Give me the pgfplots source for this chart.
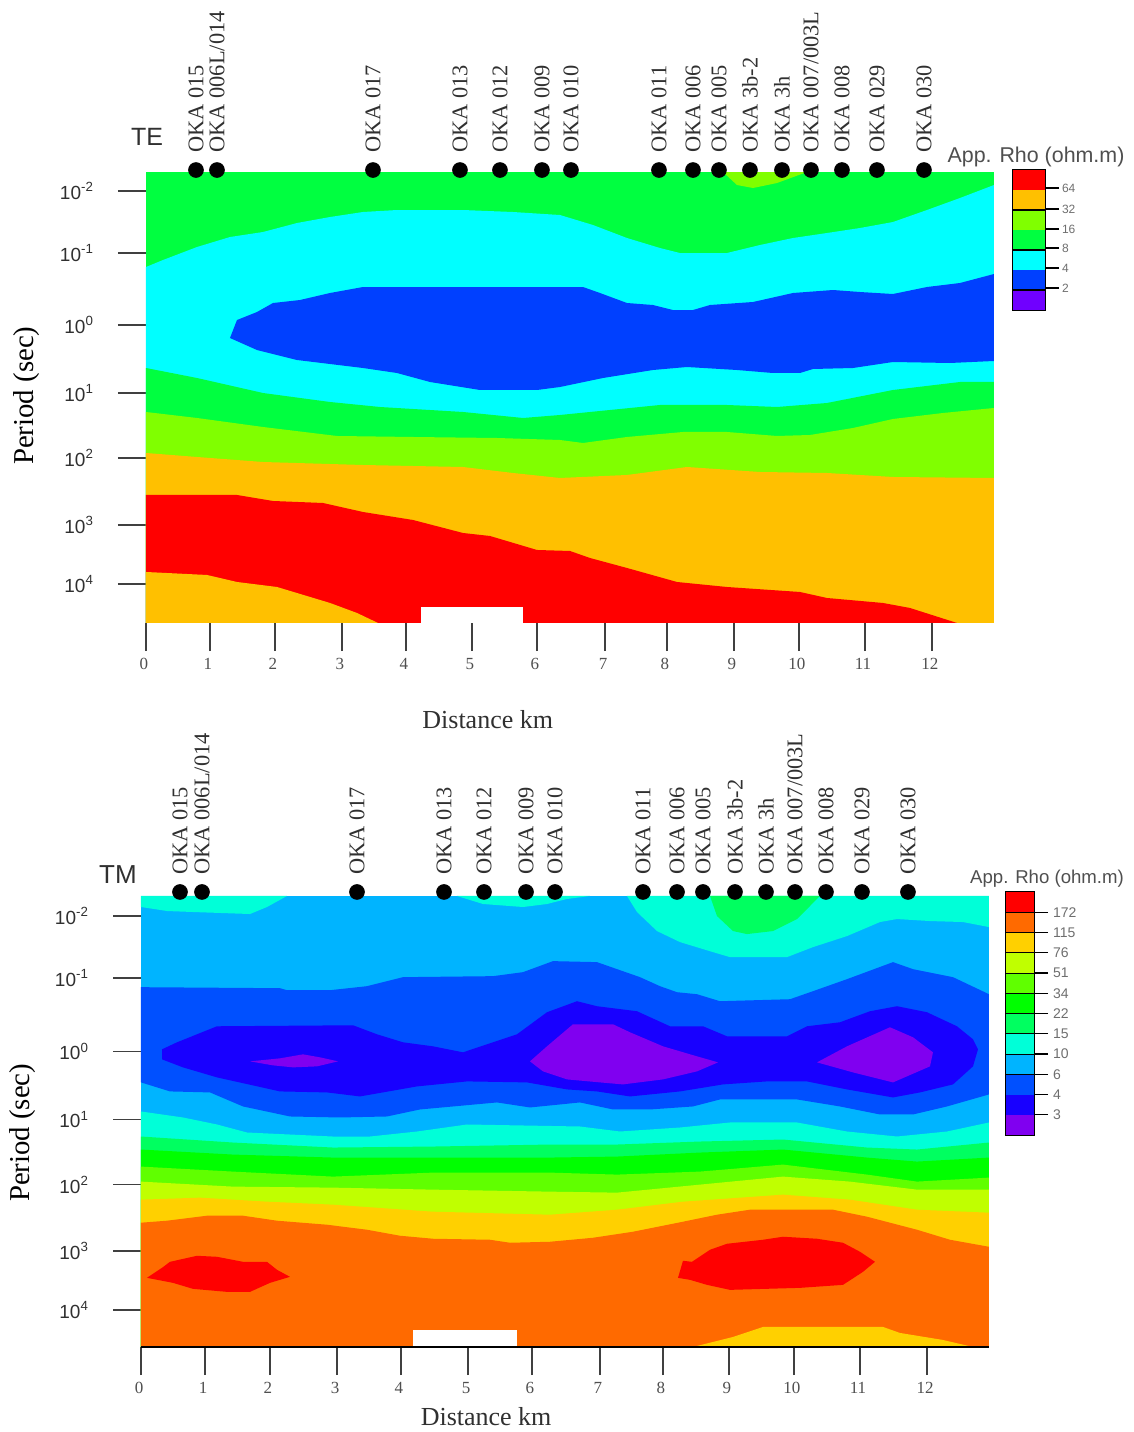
\documentclass[border=0pt]{standalone}
\usepackage{fontspec}
\setmainfont{Liberation Serif}
\newfontfamily\hel{Liberation Sans}
\usepackage{pgfplots}
\pgfplotsset{compat=1.18}
\definecolor{cG}{HTML}{00FF40}
\definecolor{cC}{HTML}{00FFFF}
\definecolor{cB}{HTML}{0040FF}
\definecolor{cL}{HTML}{80FF00}
\definecolor{cA}{HTML}{FFC000}
\definecolor{cR}{HTML}{FF0000}
\definecolor{cP}{HTML}{7000FF}
\definecolor{mR}{HTML}{FF0000}
\definecolor{mO}{HTML}{FF6A00}
\definecolor{mA}{HTML}{FFD000}
\definecolor{mY}{HTML}{C0FF00}
\definecolor{mL}{HTML}{60FF00}
\definecolor{mG}{HTML}{00FF00}
\definecolor{mS}{HTML}{00FF60}
\definecolor{mQ}{HTML}{00FFD8}
\definecolor{mH}{HTML}{00B4FF}
\definecolor{mB}{HTML}{0050FF}
\definecolor{mD}{HTML}{1800FF}
\definecolor{mP}{HTML}{8000F0}
\definecolor{txt}{HTML}{303030}
\pgfplotsset{
  map/.style={scale only axis,clip=false,enlargelimits=false,y dir=reverse,
    width=424pt,
    axis line style={draw=none},
    tick align=outside,
    major tick length=14pt,
    tick style={black!75,line width=.8pt},
    xtick pos=lower,xticklabel pos=lower,ytick pos=left,
    xticklabels={0,1,2,3,4,5,6,7,8,9,10,11,12},
    yticklabels={10\textsuperscript{-2},10\textsuperscript{-1},10\textsuperscript{0},10\textsuperscript{1},10\textsuperscript{2},10\textsuperscript{3},10\textsuperscript{4}},
    xticklabel style={font=\fontsize{8.5}{9}\selectfont,text=txt!85,xshift=-1pt},
    yticklabel style={font=\hel\fontsize{9.5}{10}\selectfont,text=txt,xshift=-8.5pt},
    xlabel={Distance km},ylabel={Period (sec)},
    xlabel style={font=\fontsize{13}{14}\selectfont,text=txt},
    ylabel style={font=\fontsize{14.4}{15}\selectfont,text=black},
  },
  fl/.style={fill=#1,draw=none},
  st/.style={only marks,mark=*,mark size=3.7pt,mark options={fill=black,draw=black},
    nodes near coords,point meta=explicit symbolic,
    every node near coord/.style={yshift=8.5pt,rotate=90,anchor=west,inner sep=0pt,
      font=\fontsize{11.2}{12}\selectfont,text=txt}},
  cbar/.style={scale only axis,enlargelimits=false,y dir=reverse,xmin=0,xmax=1,
    xtick=\empty,ytick pos=right,yticklabel pos=right,tick align=outside,
    major tick length=7pt,tick style={black,line width=.7pt},
    axis line style={black,line width=.7pt},
    clip=false},
}
\begin{document}
\begin{tikzpicture}
\path[use as bounding box] (0,0) rectangle (567pt,716pt);
% ===================== TE =====================
\begin{axis}[map,at={(73pt,404.5pt)},anchor=south west,height=225.5pt,
  x filter/.expression={(x-146)/65.5},y filter/.expression={(y-325)/65.5},
  xmin=0,xmax=12.947,ymin=-2.336,ymax=4.55,
  xtick={0,0.977,1.969,2.992,3.969,4.977,5.969,7.008,7.954,8.977,9.969,10.977,12},
  ytick={-2.046,-1.099,0,1.038,2.031,3.053,3.954},
  xlabel style={at={(axis description cs:0.403,-0.215)},anchor=center},
  ylabel style={at={(axis description cs:-0.141,0.504)},anchor=center},
]
\addplot[fl=cG] coordinates {(146,172)(994,172)(994,623)(146,623)} -- cycle;
\addplot[fl=cL] coordinates {(723,172)(737,185)(753,188)(777,183)(807,172)} -- cycle;
\addplot[fl=cC] coordinates {(146,267)(163,260)(197,247)(230,237)(263,232)(297,223)(330,217)(363,212)(397,210)(463,210)(513,212)(560,215)(593,225)(627,238)(660,248)(680,253)(727,253)(760,245)(793,238)(827,233)(860,228)(893,222)(927,210)(960,198)(994,185)(994,623)(146,623)} -- cycle;
\addplot[fl=cB] coordinates {(230,338)(237,320)(257,312)(273,303)(300,300)(330,293)(363,287)(583,287)(600,293)(627,303)(653,305)(673,310)(693,310)(710,305)(753,302)(793,293)(833,290)(860,292)(893,294)(927,287)(960,283)(994,274)(994,361)(950,363)(893,362)(853,368)(813,369)(800,373)(773,373)(737,370)(687,367)(653,370)(603,378)(560,387)(537,390)(480,390)(430,382)(397,373)(363,368)(297,360)(257,350)} -- cycle;
\addplot[fl=cG] coordinates {(146,368)(197,378)(263,393)(330,402)(380,407)(463,412)(523,418)(560,415)(610,410)(660,405)(727,405)(777,407)(827,403)(893,390)(960,382)(994,382)(994,623)(146,623)} -- cycle;
\addplot[fl=cL] coordinates {(146,412)(197,418)(263,427)(337,436)(413,437)(497,438)(560,440)(583,443)(627,437)(683,432)(727,432)(777,436)(810,435)(853,428)(893,419)(943,413)(994,408)(994,623)(146,623)} -- cycle;
\addplot[fl=cA] coordinates {(146,453)(197,457)(263,462)(363,465)(463,467)(513,473)(560,478)(627,475)(687,467)(760,472)(827,473)(893,477)(994,478)(994,623)(146,623)} -- cycle;
\addplot[fl=cR] coordinates {(146,495)(237,495)(273,501)(323,503)(363,512)(413,520)(463,533)(490,536)(537,550)(570,551)(590,558)(627,568)(677,582)(727,587)(800,592)(827,598)(883,603)(910,608)(957,623)(146,623)} -- cycle;
\addplot[fl=cA] coordinates {(146,572)(207,575)(237,582)(277,587)(330,603)(357,613)(378,623)(146,623)} -- cycle;
\addplot[fl=white] coordinates {(421,607)(523,607)(523,623)(421,623)} -- cycle;
\addplot[st] coordinates {(196,170)[OKA 015] (217,170)[OKA 006L/014] (373,170)[OKA 017] (460,170)[OKA 013] (500,170)[OKA 012] (542,170)[OKA 009] (571,170)[OKA 010] (659,170)[OKA 011] (693,170)[OKA 006] (719,170)[OKA 005] (750,170)[OKA 3b-2] (782,170)[OKA 3h] (811,170)[OKA 007/003L] (842,170)[OKA 008] (877,170)[OKA 029] (924,170)[OKA 030]};
\end{axis}
% ---- TE colour bar
\begin{axis}[cbar,at={(506.5pt,561pt)},anchor=south west,width=16pt,height=70pt,ymin=0,ymax=7,
  ytick={0.9,1.95,2.95,3.9,4.9,5.9},yticklabels={64,32,16,8,4,2},
  yticklabel style={font=\hel\fontsize{6}{7}\selectfont,text=txt!70,xshift=-2pt}]
\addplot[fl=cR] coordinates {(0,0)(1,0)(1,1)(0,1)} -- cycle;
\addplot[fl=cA] coordinates {(0,1)(1,1)(1,2)(0,2)} -- cycle;
\addplot[fl=cL] coordinates {(0,2)(1,2)(1,3)(0,3)} -- cycle;
\addplot[fl=cG] coordinates {(0,3)(1,3)(1,4)(0,4)} -- cycle;
\addplot[fl=cC] coordinates {(0,4)(1,4)(1,5)(0,5)} -- cycle;
\addplot[fl=cB] coordinates {(0,5)(1,5)(1,6)(0,6)} -- cycle;
\addplot[fl=cP] coordinates {(0,6)(1,6)(1,7)(0,7)} -- cycle;
\addplot[black,line width=.6pt] coordinates {(0,2)(1,2)};
\addplot[black,line width=.6pt] coordinates {(0,4)(1,4)};
\addplot[black,line width=.6pt] coordinates {(0,6)(1,6)};
\end{axis}
% ===================== TM =====================
\begin{axis}[map,at={(70.5pt,42.5pt)},anchor=south west,height=225pt,
  x filter/.expression={(x-141)/65.6},y filter/.expression={(y-1052)/65.5},
  xmin=0,xmax=12.927,ymin=-2.351,ymax=4.504,
  xtick={0,0.976,1.966,2.988,3.963,4.985,5.96,6.997,7.957,8.963,9.954,10.96,11.982},
  ytick={-2.061,-1.115,0,1.038,2.031,3.038,3.939},
  xlabel style={at={(axis description cs:0.407,-0.155)},anchor=center},
  ylabel style={at={(axis description cs:-0.14,0.476)},anchor=center},
]
\addplot[fl=mH] coordinates {(141,897)(989,897)(989,1347)(141,1347)} -- cycle;
\addplot[fl=mQ] coordinates {(141,897)(287,897)(267,908)(250,915)(193,913)(167,912)(141,908)} -- cycle;
\addplot[fl=mQ] coordinates {(457,897)(483,905)(523,908)(547,905)(567,900)(590,897)} -- cycle;
\addplot[fl=mQ] coordinates {(627,897)(637,913)(657,932)(680,943)(713,953)(730,958)(787,958)(813,948)(847,937)(880,923)(897,920)(930,922)(963,923)(989,928)(989,897)} -- cycle;
\addplot[fl=mS] coordinates {(710,897)(717,917)(733,932)(747,935)(773,932)(797,920)(820,897)} -- cycle;
\addplot[fl=mB] coordinates {(141,988)(280,989)(287,991)(330,991)(367,987)(403,978)(493,977)(523,973)(553,962)(597,963)(640,978)(660,987)(677,993)(697,995)(720,1002)(790,1000)(813,992)(847,980)(893,963)(913,970)(953,978)(989,995)(989,1095)(947,1107)(913,1115)(880,1115)(840,1107)(797,1100)(720,1100)(693,1107)(650,1110)(613,1110)(580,1103)(530,1108)(497,1103)(420,1110)(387,1117)(340,1118)(290,1117)(243,1107)(210,1093)(170,1092)(141,1083)} -- cycle;
\addplot[fl=mD] coordinates {(162,1050)(177,1043)(217,1027)(353,1026)(377,1035)(403,1043)(433,1047)(463,1053)(517,1035)(547,1013)(577,1002)(597,1007)(637,1012)(670,1027)(703,1027)(727,1037)(787,1037)(807,1027)(840,1023)(870,1012)(897,1007)(927,1013)(957,1027)(973,1040)(978,1050)(973,1067)(953,1085)(920,1093)(893,1098)(847,1090)(807,1082)(767,1082)(723,1085)(680,1092)(630,1097)(597,1092)(567,1090)(527,1083)(467,1082)(417,1087)(360,1097)(327,1093)(280,1092)(217,1078)(183,1068)(162,1060)} -- cycle;
\addplot[fl=mP] coordinates {(250,1062)(280,1059)(303,1055)(320,1058)(338,1062)(317,1067)(293,1068)(273,1066)} -- cycle;
\addplot[fl=mP] coordinates {(530,1062)(547,1047)(573,1025)(613,1025)(630,1033)(663,1047)(697,1057)(718,1063)(697,1072)(663,1080)(623,1085)(600,1083)(567,1080)(543,1072)} -- cycle;
\addplot[fl=mP] coordinates {(817,1063)(847,1047)(890,1028)(913,1038)(933,1053)(930,1067)(893,1083)(853,1073)} -- cycle;
\addplot[fl=mQ] coordinates {(141,1112)(183,1118)(217,1125)(247,1133)(333,1137)(370,1137)(417,1132)(467,1125)(580,1127)(620,1132)(680,1128)(730,1123)(797,1123)(847,1132)(897,1137)(947,1132)(989,1123)(989,1347)(141,1347)} -- cycle;
\addplot[fl=mS] coordinates {(141,1137)(233,1143)(333,1148)(433,1147)(550,1145)(617,1145)(700,1142)(783,1140)(867,1148)(917,1150)(989,1143)(989,1347)(141,1347)} -- cycle;
\addplot[fl=mG] coordinates {(141,1150)(233,1155)(333,1158)(433,1158)(550,1158)(617,1157)(700,1153)(783,1150)(867,1158)(917,1162)(989,1158)(989,1347)(141,1347)} -- cycle;
\addplot[fl=mL] coordinates {(141,1167)(233,1172)(333,1177)(433,1173)(550,1173)(617,1175)(700,1172)(783,1165)(867,1175)(917,1182)(989,1178)(989,1347)(141,1347)} -- cycle;
\addplot[fl=mY] coordinates {(141,1182)(233,1187)(333,1188)(433,1190)(550,1192)(617,1193)(700,1185)(783,1177)(850,1182)(917,1190)(989,1190)(989,1347)(141,1347)} -- cycle;
\addplot[fl=mA] coordinates {(141,1200)(200,1198)(267,1202)(333,1205)(433,1212)(550,1215)(617,1210)(683,1202)(783,1195)(850,1200)(917,1210)(989,1213)(989,1347)(141,1347)} -- cycle;
\addplot[fl=mO] coordinates {(141,1223)(167,1221)(207,1216)(243,1216)(277,1221)(327,1225)(367,1230)(400,1236)(433,1239)(490,1240)(510,1243)(550,1242)(593,1238)(633,1232)(683,1222)(717,1215)(750,1210)(833,1210)(867,1217)(917,1230)(950,1240)(989,1247)(989,1347)(141,1347)} -- cycle;
\addplot[fl=mR] coordinates {(147,1278)(162,1268)(170,1262)(197,1256)(217,1257)(243,1262)(267,1262)(277,1270)(290,1277)(270,1283)(250,1292)(227,1292)(193,1289)(173,1283)} -- cycle;
\addplot[fl=mR] coordinates {(678,1278)(683,1261)(692,1262)(710,1250)(727,1244)(763,1240)(783,1237)(817,1239)(843,1243)(860,1252)(875,1262)(863,1272)(843,1285)(800,1288)(730,1290)(707,1285)(690,1280)} -- cycle;
\addplot[fl=mA] coordinates {(693,1347)(733,1337)(763,1327)(883,1327)(900,1333)(943,1340)(973,1347)} -- cycle;
\addplot[fl=white] coordinates {(413,1330)(517,1330)(517,1347)(413,1347)} -- cycle;
\addplot[black,line width=1pt] coordinates {(141,1347)(989,1347)};
\addplot[st] coordinates {(180,893)[OKA 015] (202,893)[OKA 006L/014] (357,893)[OKA 017] (444,893)[OKA 013] (484,893)[OKA 012] (526,893)[OKA 009] (555,893)[OKA 010] (643,893)[OKA 011] (677,893)[OKA 006] (703,893)[OKA 005] (735,893)[OKA 3b-2] (766,893)[OKA 3h] (795,893)[OKA 007/003L] (826,893)[OKA 008] (862,893)[OKA 029] (908,893)[OKA 030]};
\end{axis}
% ---- TM colour bar
\begin{axis}[cbar,at={(503pt,148.5pt)},anchor=south west,width=14pt,height=121.5pt,ymin=0,ymax=12,
  ytick={1,2,3,4,5,6,7,8,9,10,11},yticklabels={172,115,76,51,34,22,15,10,6,4,3},
  yticklabel style={font=\hel\fontsize{7}{8}\selectfont,text=txt!70,xshift=-1pt}]
\addplot[fl=mR] coordinates {(0,0)(1,0)(1,1)(0,1)} -- cycle;
\addplot[fl=mO] coordinates {(0,1)(1,1)(1,2)(0,2)} -- cycle;
\addplot[fl=mA] coordinates {(0,2)(1,2)(1,3)(0,3)} -- cycle;
\addplot[fl=mY] coordinates {(0,3)(1,3)(1,4)(0,4)} -- cycle;
\addplot[fl=mL] coordinates {(0,4)(1,4)(1,5)(0,5)} -- cycle;
\addplot[fl=mG] coordinates {(0,5)(1,5)(1,6)(0,6)} -- cycle;
\addplot[fl=mS] coordinates {(0,6)(1,6)(1,7)(0,7)} -- cycle;
\addplot[fl=mQ] coordinates {(0,7)(1,7)(1,8)(0,8)} -- cycle;
\addplot[fl=mH] coordinates {(0,8)(1,8)(1,9)(0,9)} -- cycle;
\addplot[fl=mB] coordinates {(0,9)(1,9)(1,10)(0,10)} -- cycle;
\addplot[fl=mD] coordinates {(0,10)(1,10)(1,11)(0,11)} -- cycle;
\addplot[fl=mP] coordinates {(0,11)(1,11)(1,12)(0,12)} -- cycle;
\addplot[black,line width=.5pt] coordinates {(0,1)(1,1)};
\addplot[black,line width=.5pt] coordinates {(0,2)(1,2)};
\addplot[black,line width=.5pt] coordinates {(0,3)(1,3)};
\addplot[black,line width=.5pt] coordinates {(0,4)(1,4)};
\addplot[black,line width=.5pt] coordinates {(0,5)(1,5)};
\addplot[black,line width=.5pt] coordinates {(0,6)(1,6)};
\addplot[black,line width=.5pt] coordinates {(0,7)(1,7)};
\addplot[black,line width=.5pt] coordinates {(0,8)(1,8)};
\addplot[black,line width=.5pt] coordinates {(0,9)(1,9)};
\end{axis}
\node[font=\hel\fontsize{12.5}{13}\selectfont,text=txt] at (73.5pt,647.5pt) {TE};
\node[font=\hel\fontsize{13}{14}\selectfont,text=txt] at (59pt,278.5pt) {TM};
\node[font=\hel\fontsize{10.7}{11}\selectfont,text=txt!85] at (518pt,637.5pt) {App. Rho (ohm.m)};
\node[font=\hel\fontsize{9.3}{10}\selectfont,text=txt!85] at (523.5pt,276.5pt) {App. Rho (ohm.m)};
\end{tikzpicture}
\end{document}
